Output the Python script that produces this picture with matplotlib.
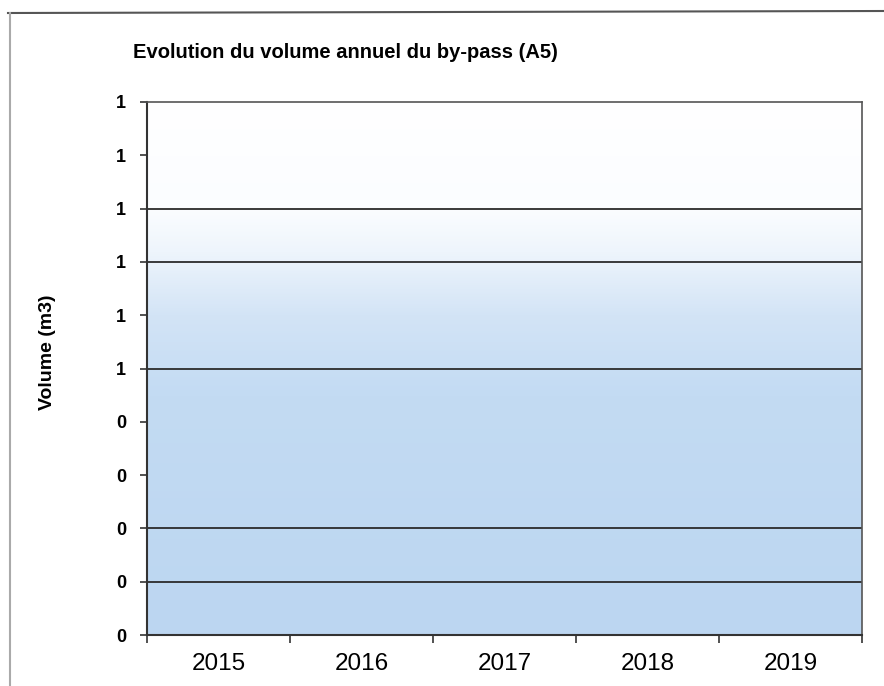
import numpy as np
import matplotlib
matplotlib.use("Agg")
import matplotlib.pyplot as plt
from matplotlib.ticker import FuncFormatter, FixedLocator
from matplotlib.colors import LinearSegmentedColormap
from matplotlib.lines import Line2D

plt.rcParams['font.family'] = ['Liberation Sans', 'DejaVu Sans']

# annual by-pass volume (m3)
years = ['2015', '2016', '2017', '2018', '2019']
volumes = [0, 0, 0, 0, 0]
y_ticks = [0.0, 0.1, 0.2, 0.3, 0.4, 0.5, 0.6, 0.7, 0.8, 0.9, 1.0]
grid_levels = [0.1, 0.2, 0.5, 0.7, 0.8]

fig = plt.figure(figsize=(8.84, 6.86), dpi=100)
ax = fig.add_axes([147 / 884, 1 - 635 / 686, 715 / 884, 533 / 686])

# white-to-blue plot area fill
cmap = LinearSegmentedColormap.from_list(
    'area', [(0.0, '#bcd6f1'), (0.45, '#c3dbf3'), (0.6, '#d3e4f6'),
             (0.72, '#eef5fc'), (0.8, '#fbfdff'), (1.0, '#ffffff')])
grad = np.linspace(0, 1, 256).reshape(-1, 1)
ax.imshow(grad, cmap=cmap, aspect='auto', origin='lower',
          extent=(-0.5, len(years) - 0.5, 0, 1), zorder=0)

x = np.arange(len(years))
ax.bar(x, volumes, width=0.6, color='#4f81bd', zorder=3)

for lv in grid_levels:
    ax.axhline(lv, color='#2b2b2b', lw=1.3, zorder=2)

ax.set_xlim(-0.5, len(years) - 0.5)
ax.set_ylim(0, 1)
ax.yaxis.set_major_locator(FixedLocator(y_ticks))
ax.yaxis.set_major_formatter(FuncFormatter(lambda v, p: '%d' % int(np.floor(round(v, 3) + 0.5))))
ax.tick_params(axis='y', direction='out', length=5, width=1.2, color='#333333',
               labelsize=13, pad=10)
for lab in ax.get_yticklabels():
    lab.set_fontweight('bold')

# categories sit between tick marks
ax.set_xticks(np.arange(len(years) + 1) - 0.5)
ax.set_xticklabels([])
ax.set_xticks(x, minor=True)
ax.set_xticklabels(years, minor=True, fontsize=17.5)
ax.tick_params(axis='x', which='major', direction='out', length=6, width=1.2, color='#333333')
ax.tick_params(axis='x', which='minor', length=0, pad=13)

for side in ['left', 'bottom']:
    ax.spines[side].set_color('#333333')
    ax.spines[side].set_linewidth(1.5)
for side in ['top', 'right']:
    ax.spines[side].set_color('#555555')
    ax.spines[side].set_linewidth(1.2)

ax.set_ylabel('Volume (m3)', fontsize=14, fontweight='bold')
ax.yaxis.set_label_coords(-0.127, 0.53)

fig.text(133 / 884, 1 - 52 / 686, 'Evolution du volume annuel du by-pass (A5)',
         fontsize=14.5, fontweight='bold', va='center', ha='left')

# outer chart frame
fig.add_artist(Line2D([8 / 884, 1.0], [1 - 13 / 686, 1 - 11 / 686], color='#555555', lw=1.5))
fig.add_artist(Line2D([10 / 884, 10 / 884], [0, 1 - 13 / 686], color='#aaaaaa', lw=1.5))

fig.savefig('out.png', dpi=100)
